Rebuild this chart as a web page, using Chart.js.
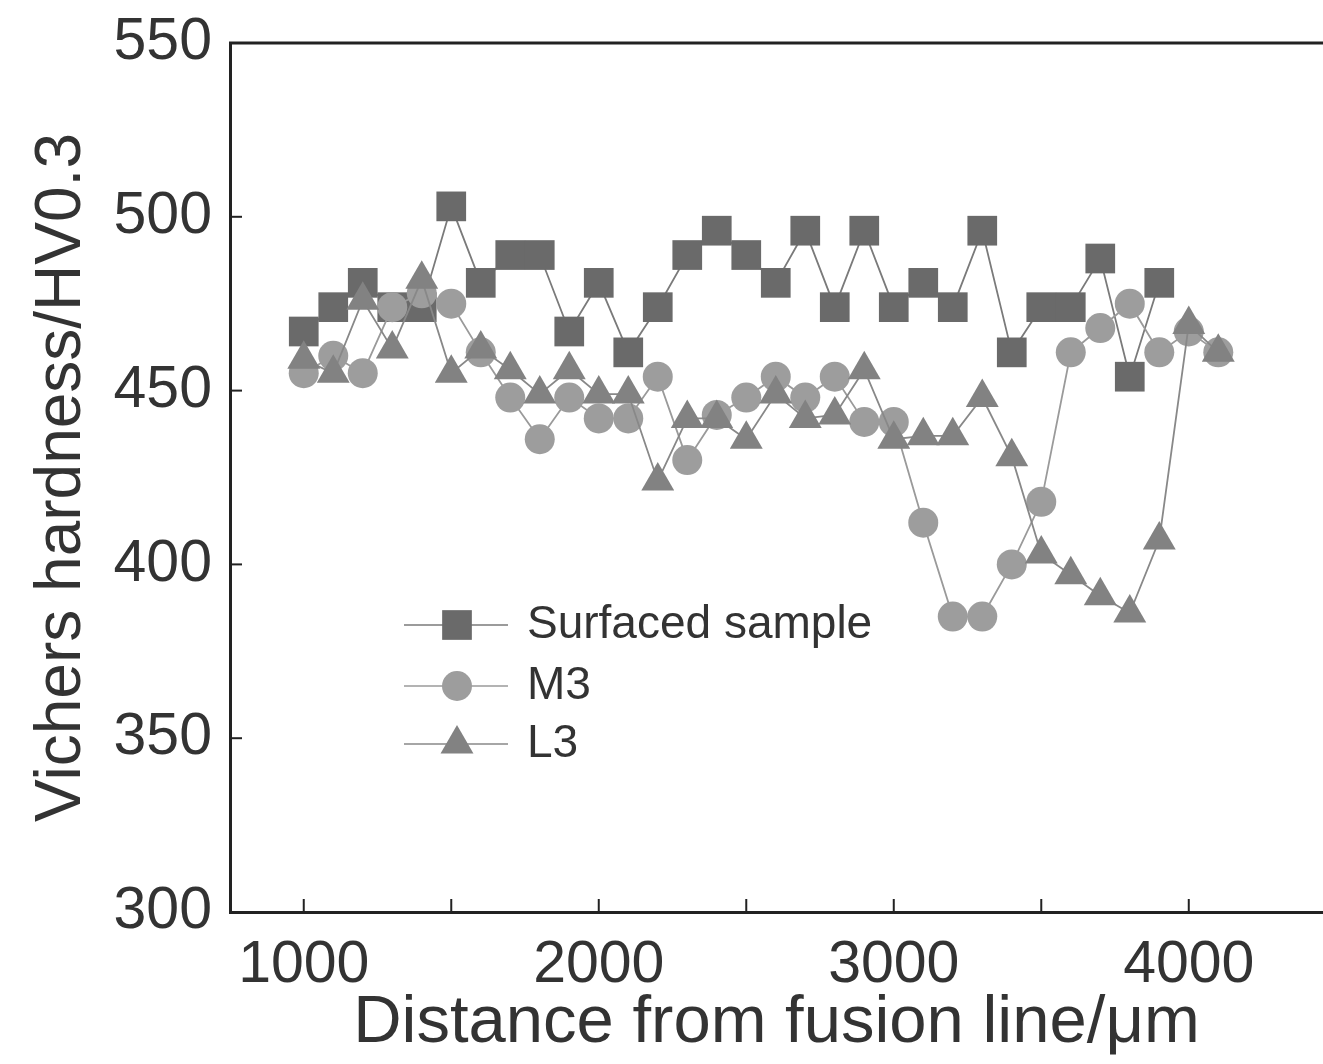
<!DOCTYPE html>
<html>
<head>
<meta charset="utf-8">
<script src="https://cdn.jsdelivr.net/npm/chart.js@4.4.1/dist/chart.umd.min.js"></script>
<style>
  html, body { margin: 0; padding: 0; background: #fff; }
</style>
</head>
<body>
<canvas id="myChart" width="1323" height="1064"></canvas>
<script>
// datos
const distancias = [1000, 1100, 1200, 1300, 1400, 1500, 1600, 1700, 1800, 1900,
  2000, 2100, 2200, 2300, 2400, 2500, 2600, 2700, 2800, 2900,
  3000, 3100, 3200, 3300, 3400, 3500, 3600, 3700, 3800, 3900, 4000, 4100];
const surfaced = [467, 474, 481, 474, 474, 503, 481, 489, 489, 467,
  481, 461, 474, 489, 496, 489, 481, 496, 474, 496,
  474, 481, 474, 496, 461, 474, 474, 488, 454, 481, null, null];
const m3 = [455, 460, 455, 474, 478, 475, 461, 448, 436, 448,
  442, 442, 454, 430, 443, 448, 454, 448, 454, 441,
  441, 412, 385, 385, 400, 418, 461, 468, 475, 461, 467, 461];
const l3 = [459, 455, 476, 462, 482, 455, 462, 456, 449, 456,
  449, 449, 424, 442, 442, 436, 449, 442, 443, 456,
  436, 437, 437, 448, 431, 403, 397, 391, 386, 407, 469, 461];
const nombres = ["Surfaced sample", "M3", "L3"];
const xTicks = [1000, 1500, 2000, 2500, 3000, 3500, 4000];
const yTicks = [300, 350, 400, 450, 500, 550];

function puntos(serie) {
  return distancias.map(function (d, i) {
    return { x: d, y: serie[i] };
  });
}

const fuente = "'Liberation Sans', Arial, sans-serif";
const colorTexto = "#333";

// marco superior, marcas interiores y leyenda
const extras = {
  id: "extras",
  afterDatasetsDraw(chart) {
    const ctx = chart.ctx;
    const a = chart.chartArea;
    const sx = chart.scales.x;
    const sy = chart.scales.y;
    ctx.save();
    ctx.strokeStyle = "#222";
    ctx.lineWidth = 3;
    ctx.beginPath();
    ctx.moveTo(a.left - 1, a.top);
    ctx.lineTo(a.right, a.top);
    ctx.stroke();
    ctx.lineWidth = 2;
    xTicks.forEach(function (v) {
      const px = sx.getPixelForValue(v);
      ctx.beginPath();
      ctx.moveTo(px, a.bottom);
      ctx.lineTo(px, a.bottom - 13);
      ctx.stroke();
    });
    yTicks.slice(1, -1).forEach(function (v) {
      const py = sy.getPixelForValue(v);
      ctx.beginPath();
      ctx.moveTo(a.left, py);
      ctx.lineTo(a.left + 12, py);
      ctx.stroke();
    });

    // leyenda
    const filas = [625, 686, 744];
    [0, 1, 2].forEach(function (k) {
      const ds = chart.data.datasets[k];
      const y = filas[k];
      ctx.strokeStyle = ds.borderColor;
      ctx.lineWidth = 1.5;
      ctx.beginPath();
      ctx.moveTo(404, y);
      ctx.lineTo(508, y);
      ctx.stroke();
      ctx.fillStyle = ds.pointBackgroundColor;
      ctx.strokeStyle = ds.pointBackgroundColor;
      Chart.helpers.drawPoint(ctx, {
        pointStyle: ds.pointStyle,
        radius: ds.pointRadius,
        rotation: 0,
        borderWidth: 0,
      }, 457, y);
      ctx.fillStyle = colorTexto;
      ctx.font = "46px " + fuente;
      ctx.textBaseline = "middle";
      ctx.textAlign = "left";
      ctx.fillText(nombres[k], 527, y);
    });
    ctx.restore();
  },
};

const ctx = document.getElementById("myChart").getContext("2d");

const data = {
  datasets: [
    {
      label: nombres[0],
      data: puntos(surfaced),
      borderColor: "#7a7a7a",
      borderWidth: 1.8,
      pointStyle: "rect",
      pointRadius: 21,
      pointBackgroundColor: "#6a6a6a",
      pointBorderWidth: 0,
      order: 2,
    },
    {
      label: nombres[1],
      data: puntos(m3),
      borderColor: "#9a9a9a",
      borderWidth: 1.8,
      pointStyle: "circle",
      pointRadius: 15,
      pointBackgroundColor: "#9d9d9d",
      pointBorderWidth: 0,
      order: 1,
    },
    {
      label: nombres[2],
      data: puntos(l3),
      borderColor: "#888",
      borderWidth: 1.8,
      pointStyle: "triangle",
      pointRadius: 19,
      pointBackgroundColor: "#828282",
      pointBorderWidth: 0,
      order: 0,
    },
  ],
};

const config = {
  type: "line",
  data: data,
  options: {
    responsive: false,
    animation: false,
    devicePixelRatio: 1,
    spanGaps: false,
    layout: { autoPadding: false, padding: { top: 43, right: 0, left: 0, bottom: 0 } },
    plugins: {
      legend: { display: false },
      tooltip: { enabled: false },
    },
    scales: {
      x: {
        type: "linear",
        position: "bottom",
        min: 750,
        max: 4455,
        grid: { display: false, drawTicks: false },
        border: { display: true, color: "#222", width: 3 },
        afterBuildTicks: function (scale) {
          scale.ticks = xTicks.map(function (v) { return { value: v }; });
        },
        afterFit: function (scale) {
          scale.height = 152;
        },
        ticks: {
          autoSkip: false,
          maxRotation: 0,
          padding: 18,
          color: colorTexto,
          font: { family: fuente, size: 59 },
          callback: function (v) {
            return v % 1000 === 0 ? String(v) : "";
          },
        },
        title: {
          display: true,
          text: "Distance from fusion line/μm",
          color: colorTexto,
          font: { family: fuente, size: 67 },
          padding: { top: 0, bottom: 0 },
        },
      },
      y: {
        min: 300,
        max: 550,
        grid: { display: false, drawTicks: false },
        border: { display: true, color: "#222", width: 3 },
        afterBuildTicks: function (scale) {
          scale.ticks = yTicks.map(function (v) { return { value: v }; });
        },
        afterFit: function (scale) {
          scale.width = 230;
          scale.paddingTop = 0;
          scale.paddingBottom = 0;
        },
        ticks: {
          padding: 18,
          color: colorTexto,
          font: { family: fuente, size: 59, lineHeight: 1 },
        },
        title: {
          display: true,
          text: "Vichers hardness/HV0.3",
          color: colorTexto,
          font: { family: fuente, size: 64 },
          padding: { top: 24, bottom: 0 },
        },
      },
    },
  },
  plugins: [extras],
};

const myChart = new Chart(ctx, config);
</script>
</body>
</html>
